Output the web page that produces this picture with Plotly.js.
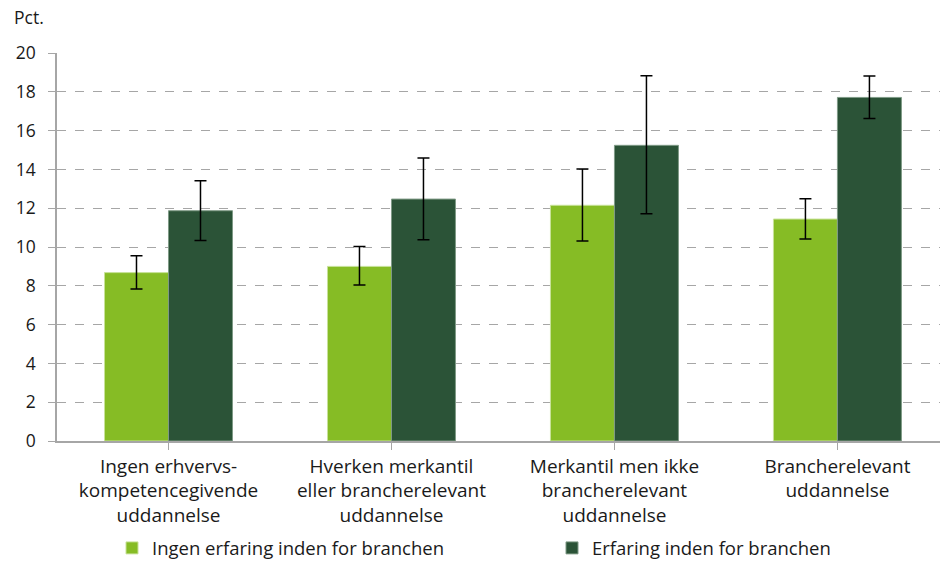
<!DOCTYPE html>
<html>
<head>
<meta charset="utf-8">
<script src="https://cdn.plot.ly/plotly-3.0.1.min.js"></script>
<style>html,body{margin:0;padding:0;background:#fff;}#chart{width:940px;height:563px;}</style>
</head>
<body>
<div id="chart"></div>
<script>
const categories = [
  "Ingen erhvervs-<br>kompetencegivende<br>uddannelse",
  "Hverken merkantil<br>eller brancherelevant<br>uddannelse",
  "Merkantil men ikke<br>brancherelevant<br>uddannelse",
  "Brancherelevant<br>uddannelse"
];
const seriesNames = ["Ingen erfaring inden for branchen", "Erfaring inden for branchen"];
const noExp = [8.68, 9.0, 12.15, 11.44];
const noExpUpper = [9.55, 10.02, 14.02, 12.49];
const noExpLower = [7.84, 8.04, 10.31, 10.41];
const exp = [11.87, 12.47, 15.24, 17.71];
const expUpper = [13.42, 14.59, 18.83, 18.81];
const expLower = [10.34, 10.38, 11.72, 16.63];
const yTicks = [0, 2, 4, 6, 8, 10, 12, 14, 16, 18, 20];

const idx = categories.map((_, i) => i);
function errs(vals, up, lo) {
  return {
    type: 'data', symmetric: false,
    array: vals.map((v, i) => up[i] - v),
    arrayminus: vals.map((v, i) => v - lo[i]),
    color: '#000000', thickness: 1.5, width: 6
  };
}
const traces = [
  {type: 'bar', name: seriesNames[0], x: idx, y: noExp, legend: 'legend',
   marker: {color: '#86bc25', line: {color: '#c8e29a', width: 1}},
   error_y: errs(noExp, noExpUpper, noExpLower), hoverinfo: 'y'},
  {type: 'bar', name: seriesNames[1], x: idx, y: exp, legend: 'legend2',
   marker: {color: '#2b5337', line: {color: '#7f9a86', width: 1}},
   error_y: errs(exp, expUpper, expLower), hoverinfo: 'y'}
];
const legendCommon = {orientation: 'h', xref: 'container', yref: 'container',
  xanchor: 'left', yanchor: 'middle', y: 0.026, font: {size: 18.5, color: '#1a1a1a'},
  itemwidth: 30, bgcolor: 'rgba(0,0,0,0)'};
const layout = {
  width: 940, height: 563,
  margin: {l: 57, r: 0, t: 53, b: 122, autoexpand: false},
  paper_bgcolor: '#ffffff', plot_bgcolor: '#ffffff',
  font: {family: 'Open Sans, sans-serif', size: 17, color: '#1a1a1a'},
  barmode: 'group', bargap: 0.426, bargroupgap: 0,
  showlegend: true,
  legend: Object.assign({}, legendCommon, {x: 112 / 940}),
  legend2: Object.assign({}, legendCommon, {x: 552 / 940}),
  xaxis: {
    tickmode: 'array', tickvals: idx, ticktext: categories,
    range: [-0.5, 3.46], showgrid: false, zeroline: false,
    showline: true, linecolor: '#a6a6a6', linewidth: 1.5,
    ticks: 'outside', tickson: 'boundaries', ticklen: 7, tickcolor: '#a6a6a6',
    tickfont: {size: 19}, automargin: false
  },
  yaxis: {
    range: [0, 20], tickmode: 'array', tickvals: yTicks,
    showgrid: true, gridcolor: '#a6a6a6', griddash: 'dash', gridwidth: 1,
    zeroline: false, showline: true, linecolor: '#a6a6a6', linewidth: 1.5,
    ticks: 'outside', ticklen: 7, tickcolor: '#a6a6a6', ticklabelstandoff: 9,
    tickfont: {size: 17.5}, automargin: false
  },
  annotations: [{
    text: 'Pct.', xref: 'paper', yref: 'paper', x: -0.051, y: 1.057,
    xanchor: 'left', yanchor: 'bottom', showarrow: false, font: {size: 17.5}
  }]
};
Plotly.newPlot('chart', traces, layout, {displayModeBar: false, responsive: false});
</script>
</body>
</html>
